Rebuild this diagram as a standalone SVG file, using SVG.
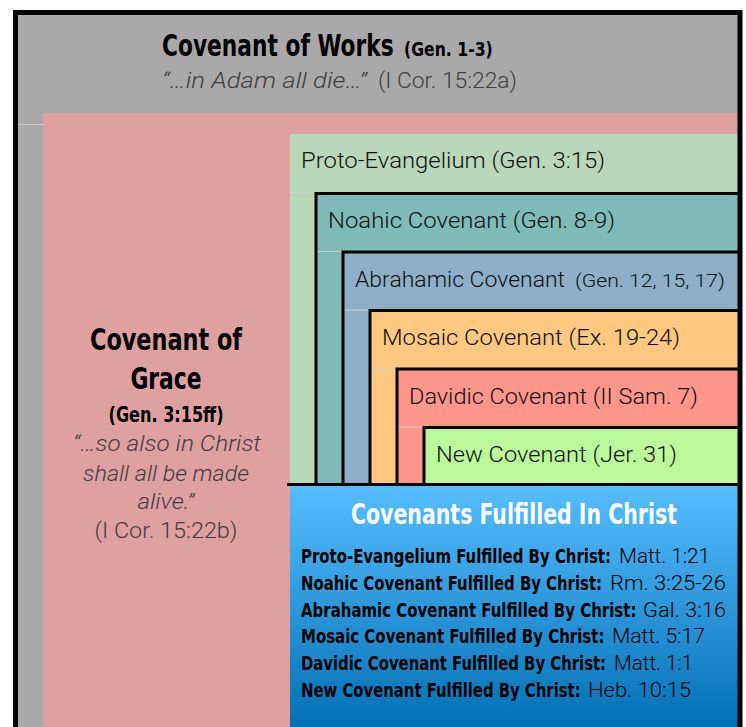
<svg xmlns="http://www.w3.org/2000/svg" width="746" height="727" viewBox="0 0 746 727">
<defs>
<linearGradient id="blueGrad" x1="0" y1="0" x2="0" y2="1">
<stop offset="0" stop-color="#56BEFF"/>
<stop offset="1" stop-color="#0370B4"/>
</linearGradient>
<style>
.cond{font-family:"DejaVu Sans Condensed","Liberation Sans Narrow","Liberation Sans",Arial,sans-serif;font-stretch:condensed;font-weight:bold;}
.light{font-family:Roboto,"Liberation Sans",Arial,sans-serif;font-weight:300;}
.edge{stroke:#000;stroke-width:3;fill:none;}
.faint{stroke:#d0d0d0;stroke-width:1;fill:none;}
.item{font-size:20px;fill:#000;}
</style>
</defs>
<rect x="0" y="0" width="746" height="727" fill="#fff"/>

<g id="works">
<rect x="15" y="12" width="725" height="715" fill="#A9A9A9"/>
<line class="faint" x1="18" y1="124.5" x2="43" y2="124.5" stroke="#bdbdbd"/>
<text class="cond" transform="translate(162,56) scale(0.81,1)" x="0" y="0" font-size="30" fill="#000" textLength="286" lengthAdjust="spacingAndGlyphs">Covenant of Works</text>
<text class="cond" transform="translate(404,56) scale(0.87,1)" x="0" y="0" font-size="20" fill="#000" textLength="102" lengthAdjust="spacingAndGlyphs">(Gen. 1-3)</text>
<text class="light" x="162" y="88" font-size="22" font-style="italic" fill="#3e3e3e" textLength="205" lengthAdjust="spacingAndGlyphs">“…in Adam all die…”</text>
<text class="light" x="378" y="88" font-size="22" fill="#3e3e3e" textLength="139" lengthAdjust="spacingAndGlyphs">(I Cor. 15:22a)</text>
</g>

<g id="grace">
<rect x="43" y="113" width="697" height="614" fill="#DFA0A0"/>
<text class="cond" transform="translate(166,350) scale(0.8,1)" x="0" y="0" font-size="31" fill="#000" text-anchor="middle" textLength="190" lengthAdjust="spacingAndGlyphs">Covenant of</text>
<text class="cond" transform="translate(166,389) scale(0.8,1)" x="0" y="0" font-size="31" fill="#000" text-anchor="middle" textLength="89" lengthAdjust="spacingAndGlyphs">Grace</text>
<text class="cond" transform="translate(166,422) scale(0.845,1)" x="0" y="0" font-size="21" fill="#000" text-anchor="middle" textLength="136" lengthAdjust="spacingAndGlyphs">(Gen. 3:15ff)</text>
<text class="light" x="167" y="451" font-size="22" font-style="italic" fill="#3e3e3e" text-anchor="middle" textLength="188" lengthAdjust="spacingAndGlyphs">“…so also in Christ</text>
<text class="light" x="166" y="481" font-size="22" font-style="italic" fill="#3e3e3e" text-anchor="middle" textLength="166" lengthAdjust="spacingAndGlyphs">shall all be made</text>
<text class="light" x="166" y="509" font-size="22" font-style="italic" fill="#3e3e3e" text-anchor="middle" textLength="57" lengthAdjust="spacingAndGlyphs">alive.”</text>
<text class="light" x="166" y="538" font-size="22" fill="#3e3e3e" text-anchor="middle" textLength="143" lengthAdjust="spacingAndGlyphs">(I Cor. 15:22b)</text>
</g>

<g id="proto">
<rect x="290" y="134" width="450" height="350" fill="#B9D8B9"/>
<line class="faint" x1="290" y1="192.5" x2="316" y2="192.5"/>
<text class="light" x="301" y="168" font-size="22" fill="#111" textLength="304" lengthAdjust="spacingAndGlyphs">Proto-Evangelium (Gen. 3:15)</text>
</g>

<g id="noahic">
<rect x="316" y="193.5" width="424" height="290.5" fill="#7FBBB8"/>
<line class="faint" x1="316" y1="251.5" x2="343" y2="251.5"/>
<path class="edge" d="M316 484 V193.5 H740"/>
<text class="light" x="328" y="228" font-size="22" fill="#111" textLength="287" lengthAdjust="spacingAndGlyphs">Noahic Covenant (Gen. 8-9)</text>
</g>

<g id="abrahamic">
<rect x="343" y="252" width="397" height="232" fill="#8EAFC6"/>
<line class="faint" x1="343" y1="310" x2="370" y2="310"/>
<path class="edge" d="M343 484 V252 H740"/>
<text class="light" x="355" y="287" font-size="22" fill="#111" textLength="210" lengthAdjust="spacingAndGlyphs">Abrahamic Covenant</text>
<text class="light" x="575" y="287" font-size="19" fill="#111" textLength="150" lengthAdjust="spacingAndGlyphs">(Gen. 12, 15, 17)</text>
</g>

<g id="mosaic">
<rect x="370" y="310.5" width="370" height="173.5" fill="#FFC880"/>
<line class="faint" x1="370" y1="368.5" x2="397" y2="368.5"/>
<path class="edge" d="M370 484 V310.5 H740"/>
<text class="light" x="382" y="345" font-size="22" fill="#111" textLength="298" lengthAdjust="spacingAndGlyphs">Mosaic Covenant (Ex. 19-24)</text>
</g>

<g id="davidic">
<rect x="397" y="369" width="343" height="115" fill="#FF968B"/>
<line class="faint" x1="397" y1="427" x2="424" y2="427"/>
<path class="edge" d="M397 484 V369 H740"/>
<text class="light" x="409" y="404" font-size="22" fill="#111" textLength="289" lengthAdjust="spacingAndGlyphs">Davidic Covenant (II Sam. 7)</text>
</g>

<g id="new">
<rect x="424" y="427.5" width="316" height="56.5" fill="#BBF99B"/>
<path class="edge" d="M424 484 V427.5 H740"/>
<text class="light" x="436" y="462" font-size="22" fill="#111" textLength="241" lengthAdjust="spacingAndGlyphs">New Covenant (Jer. 31)</text>
</g>

<g id="fulfilled">
<rect x="290" y="486" width="450" height="241" fill="url(#blueGrad)"/>
<line stroke="#000" stroke-width="3" x1="287" y1="484.5" x2="740" y2="484.5"/>
<text class="cond" transform="translate(351,524) scale(0.86,1)" x="0" y="0" font-size="28" fill="#fff" textLength="379" lengthAdjust="spacingAndGlyphs">Covenants Fulfilled In Christ</text>
<text class="cond item" transform="translate(301,563) scale(0.82,1)" x="0" y="0" textLength="378" lengthAdjust="spacingAndGlyphs">Proto-Evangelium Fulfilled By Christ:</text>
<text class="light item" x="619" y="563" textLength="91" lengthAdjust="spacingAndGlyphs">Matt. 1:21</text>
<text class="cond item" transform="translate(301,590) scale(0.82,1)" x="0" y="0" textLength="367" lengthAdjust="spacingAndGlyphs">Noahic Covenant Fulfilled By Christ:</text>
<text class="light item" x="610" y="590" textLength="116" lengthAdjust="spacingAndGlyphs">Rm. 3:25-26</text>
<text class="cond item" transform="translate(301,617) scale(0.82,1)" x="0" y="0" textLength="409" lengthAdjust="spacingAndGlyphs">Abrahamic Covenant Fulfilled By Christ:</text>
<text class="light item" x="643" y="617" textLength="83" lengthAdjust="spacingAndGlyphs">Gal. 3:16</text>
<text class="cond item" transform="translate(301,643) scale(0.82,1)" x="0" y="0" textLength="370" lengthAdjust="spacingAndGlyphs">Mosaic Covenant Fulfilled By Christ:</text>
<text class="light item" x="612" y="643" textLength="93" lengthAdjust="spacingAndGlyphs">Matt. 5:17</text>
<text class="cond item" transform="translate(301,670) scale(0.82,1)" x="0" y="0" textLength="372" lengthAdjust="spacingAndGlyphs">Davidic Covenant Fulfilled By Christ:</text>
<text class="light item" x="614" y="670" textLength="79" lengthAdjust="spacingAndGlyphs">Matt. 1:1</text>
<text class="cond item" transform="translate(301,697) scale(0.82,1)" x="0" y="0" textLength="341" lengthAdjust="spacingAndGlyphs">New Covenant Fulfilled By Christ:</text>
<text class="light item" x="588" y="697" textLength="103" lengthAdjust="spacingAndGlyphs">Heb. 10:15</text>
</g>

<g id="frame">
<path d="M15.5 727 V12.5 H740 V727" fill="none" stroke="#000" stroke-width="5"/>
</g>
</svg>
